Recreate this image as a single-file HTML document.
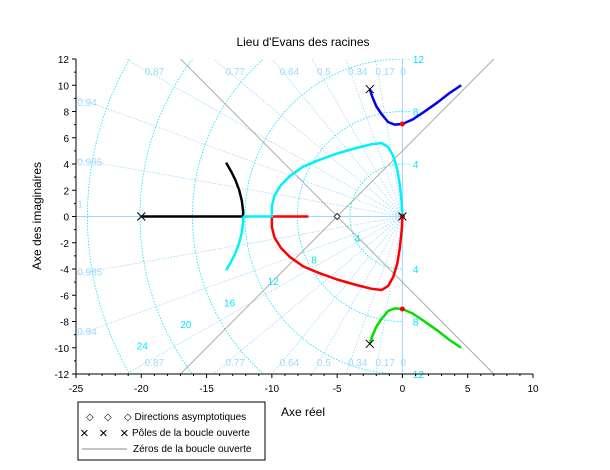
<!DOCTYPE html>
<html><head><meta charset="utf-8"><style>
html,body{margin:0;padding:0;background:#fff;width:610px;height:470px;overflow:hidden;}
svg{font-family:"Liberation Sans",sans-serif;display:block;}
</style></head><body>
<svg id="c" width="610" height="470">
<rect width="610" height="470" fill="#fff"/>
<g id="grid"></g>
<g id="series"></g>
<g id="axes"></g>
<text x="303" y="46" font-size="12" text-anchor="middle">Lieu d'Evans des racines</text>
<text x="303" y="416" font-size="12" text-anchor="middle">Axe réel</text>
<text x="41" y="216" font-size="12" text-anchor="middle" transform="rotate(-90 41 216)">Axe des imaginaires</text>
<g>
<rect x="78" y="402" width="187" height="58" fill="#fff" stroke="#000"/>
<g><text x="86" y="420" font-size="10">◇</text><text x="104" y="420" font-size="10">◇</text><text x="124" y="420" font-size="10">◇ Directions asymptotiques</text></g>
<g><text x="80" y="438" font-size="15">×</text><text x="99" y="438" font-size="15">×</text><text x="120" y="438" font-size="15">×</text><text x="132" y="436" font-size="10">Pôles de la boucle ouverte</text></g>
<g><line x1="82" y1="449" x2="127" y2="449" stroke="#888"/><text x="133" y="452" font-size="10">Zéros de la boucle ouverte</text></g>
</g>
</svg>
<script>
const NS="http://www.w3.org/2000/svg";
const xTicks=[-25,-20,-15,-10,-5,0,5,10];
const yTicks=[-12,-10,-8,-6,-4,-2,0,2,4,6,8,10,12];
const dampings=[0,0.17,0.34,0.5,0.64,0.77,0.87,0.94,0.985,1];
const freqs=[4,8,12,16,20,24];
const poles=[[-20,0],[0,0],[-2.5,9.7],[-2.5,-9.7]];
const asymptoteCenter=[-5,0];
const blackX=[-20,-12.2,-12.2,-12.3,-12.5,-12.8,-13.1,-13.5];
const blackY=[0,0,0.4,1.2,2.0,2.8,3.4,4.1];
const cyanLowX=[-12.2,-12.2,-12.3,-12.5,-12.8,-13.1,-13.5];
const cyanLowY=[0,-0.4,-1.2,-2.0,-2.8,-3.4,-4.1];
const cyanArcX=[-12.2,-10,-10,-9.8,-9.3,-8.6,-7.6,-6.4,-5,-3.6,-2.4,-1.6,-1.1,-0.7,-0.4,-0.2,-0.05,0];
const cyanArcY=[0,0,0.8,1.6,2.4,3.1,3.8,4.3,4.8,5.2,5.5,5.6,5.3,4.6,3.6,2.4,1.0,0];
const redArcX=[-7.2,-10,-10,-9.8,-9.3,-8.6,-7.6,-6.4,-5,-3.6,-2.4,-1.6,-1.1,-0.7,-0.4,-0.2,-0.05,0];
const redArcY=[0,0,-0.8,-1.6,-2.4,-3.1,-3.8,-4.3,-4.8,-5.2,-5.5,-5.6,-5.3,-4.6,-3.6,-2.4,-1.0,0];
const blueX=[-2.5,-2.3,-2.0,-1.6,-1.1,-0.6,0,0.8,1.7,2.7,3.6,4.5];
const blueY=[9.7,9.1,8.4,7.8,7.2,7.0,7.05,7.4,8.0,8.7,9.4,10.0];
const greenX=[-2.5,-2.3,-2.0,-1.6,-1.1,-0.6,0,0.8,1.7,2.7,3.6,4.5];
const greenY=[-9.7,-9.1,-8.4,-7.8,-7.2,-7.0,-7.05,-7.4,-8.0,-8.7,-9.4,-10.0];
const X0=76,X1=533,Y0=59,Y1=374;
const sx=v=>X0+(v+25)/35*(X1-X0);
const sy=v=>Y1-(v+12)/24*(Y1-Y0);
function el(t,a,p){const e=document.createElementNS(NS,t);for(const k in a)e.setAttribute(k,a[k]);p.appendChild(e);return e;}
const grid=document.getElementById('grid'),ser=document.getElementById('series'),ax=document.getElementById('axes');
const defs=el('defs',{},document.getElementById('c'));
const cp=el('clipPath',{id:'pc'},defs);el('rect',{x:X0,y:Y0,width:X1-X0,height:Y1-Y0},cp);
ser.setAttribute('clip-path','url(#pc)');
const gl=el('g',{'clip-path':'url(#pc)'},grid);
// damping rays
dampings.forEach(z=>{const th=Math.acos(z);const R=40;
 [1,-1].forEach(s=>{const l=el('line',{x1:sx(0),y1:sy(0),x2:sx(-R*Math.cos(th)),y2:sy(s*R*Math.sin(th)),stroke:'#9fd8ff','stroke-width':0.8,'stroke-dasharray':'1.5,1.5'},gl);
 
 if(z<1){const yy=s*11.1;const xx=-Math.abs(yy)/Math.tan(th);const big=Math.abs(xx)>24;const ylab=big?(s*24*Math.tan(th)):yy;const xlab=big?-24.9:xx;
 const t=el('text',{x:sx(xlab)+(big?0:-2),y:sy(ylab)+4,'font-size':10,fill:'#9fd8ff'},grid);t.textContent=String(z);
 }});
});
const t1=el('text',{x:sx(-24.9),y:sy(0.7),'font-size':10,fill:'#9fd8ff'},grid);t1.textContent='1';
// frequency arcs
freqs.forEach((w,i)=>{const r=w*(X1-X0)/35;
 const a=el('path',{d:`M${sx(0)} ${sy(w)} A${r} ${r} 0 0 0 ${sx(0)} ${sy(-w)}`,fill:'none',stroke:'#00e5ff','stroke-width':0.8,'stroke-dasharray':'1.5,1.5'},gl);
 
 const ang=Math.atan(0.49);const t=el('text',{x:sx(-w*0.93*Math.cos(ang))-4,y:sy(-w*0.93*Math.sin(ang))+4,'font-size':10,fill:'#00e5ff'},grid);t.textContent=w;
 
 if(w<=12){el('line',{x1:sx(0),y1:sy(w),x2:sx(0.6),y2:sy(w),stroke:'#00e5ff','stroke-width':0.8,'stroke-dasharray':'1.5,1.5'},gl);
 [1,-1].forEach(s=>{const t2=el('text',{x:sx(0.8),y:sy(s*w)+4,'font-size':10,fill:'#00e5ff'},grid);t2.textContent=w;
 });}
});
el('line',{x1:X0,y1:sy(0),x2:sx(0),y2:sy(0),stroke:'#9fd8ff'},gl);
el('line',{x1:sx(0),y1:Y0,x2:sx(0),y2:Y1,stroke:'#9fd8ff'},gl);
// asymptotes
[[-12,12],[12,-12]].forEach(([a,b])=>{const l=el('line',{x1:sx(asymptoteCenter[0]-12),y1:sy(a),x2:sx(asymptoteCenter[0]+12),y2:sy(b),stroke:'#aaa','stroke-width':1},gl);
 });
// series
function poly(xs,ys,c,name){const p=el('polyline',{points:xs.map((x,i)=>sx(x)+','+sy(ys[i])).join(' '),fill:'none',stroke:c,'stroke-width':2.5,'stroke-linejoin':'round'},ser);
 }
poly(blackX,blackY,'#000','branch-black');
poly(cyanLowX,cyanLowY,'#00f0ff','branch-cyan-lower');
poly(redArcX,redArcY,'#f00','branch-red');
poly(cyanArcX,cyanArcY,'#00f0ff','branch-cyan');
poly(blueX,blueY,'#0000ee','branch-blue');
poly(greenX,greenY,'#00e000','branch-green');
[[0,7.05],[0,-7.05],[0,0]].forEach(([x,y])=>{const c=el('circle',{cx:sx(x),cy:sy(y),r:2.5,fill:'#f00'},ser);
 });
poles.forEach(([x,y])=>{const g=el('path',{d:`M${sx(x)-4} ${sy(y)-4}L${sx(x)+4} ${sy(y)+4}M${sx(x)-4} ${sy(y)+4}L${sx(x)+4} ${sy(y)-4}`,stroke:'#000','stroke-width':1},ser);
 });
const dm=el('path',{d:`M${sx(-5)-3} ${sy(0)}L${sx(-5)} ${sy(0)-3}L${sx(-5)+3} ${sy(0)}L${sx(-5)} ${sy(0)+3}Z`,fill:'#fff',stroke:'#333'},ser);

// axes
el('line',{x1:X0,y1:Y0,x2:X0,y2:Y1,stroke:'#000'},ax);
el('line',{x1:X0,y1:Y1,x2:X1,y2:Y1,stroke:'#000'},ax);
for(let v=-25;v<=10;v++){el('line',{x1:sx(v),y1:Y1,x2:sx(v),y2:Y1+(v%5==0?4:2),stroke:'#000'},ax);}
xTicks.forEach(v=>{const t=el('text',{x:sx(v),y:Y1+18,'font-size':10,'text-anchor':'middle'},ax);t.textContent=v;
 });
for(let v=-12;v<=12;v++){el('line',{x1:X0,y1:sy(v),x2:X0-(v%2==0?4:2),y2:sy(v),stroke:'#000'},ax);}
yTicks.forEach(v=>{const t=el('text',{x:X0-7,y:sy(v)+4,'font-size':10,'text-anchor':'end'},ax);t.textContent=v;
 });
</script>
</body></html>
